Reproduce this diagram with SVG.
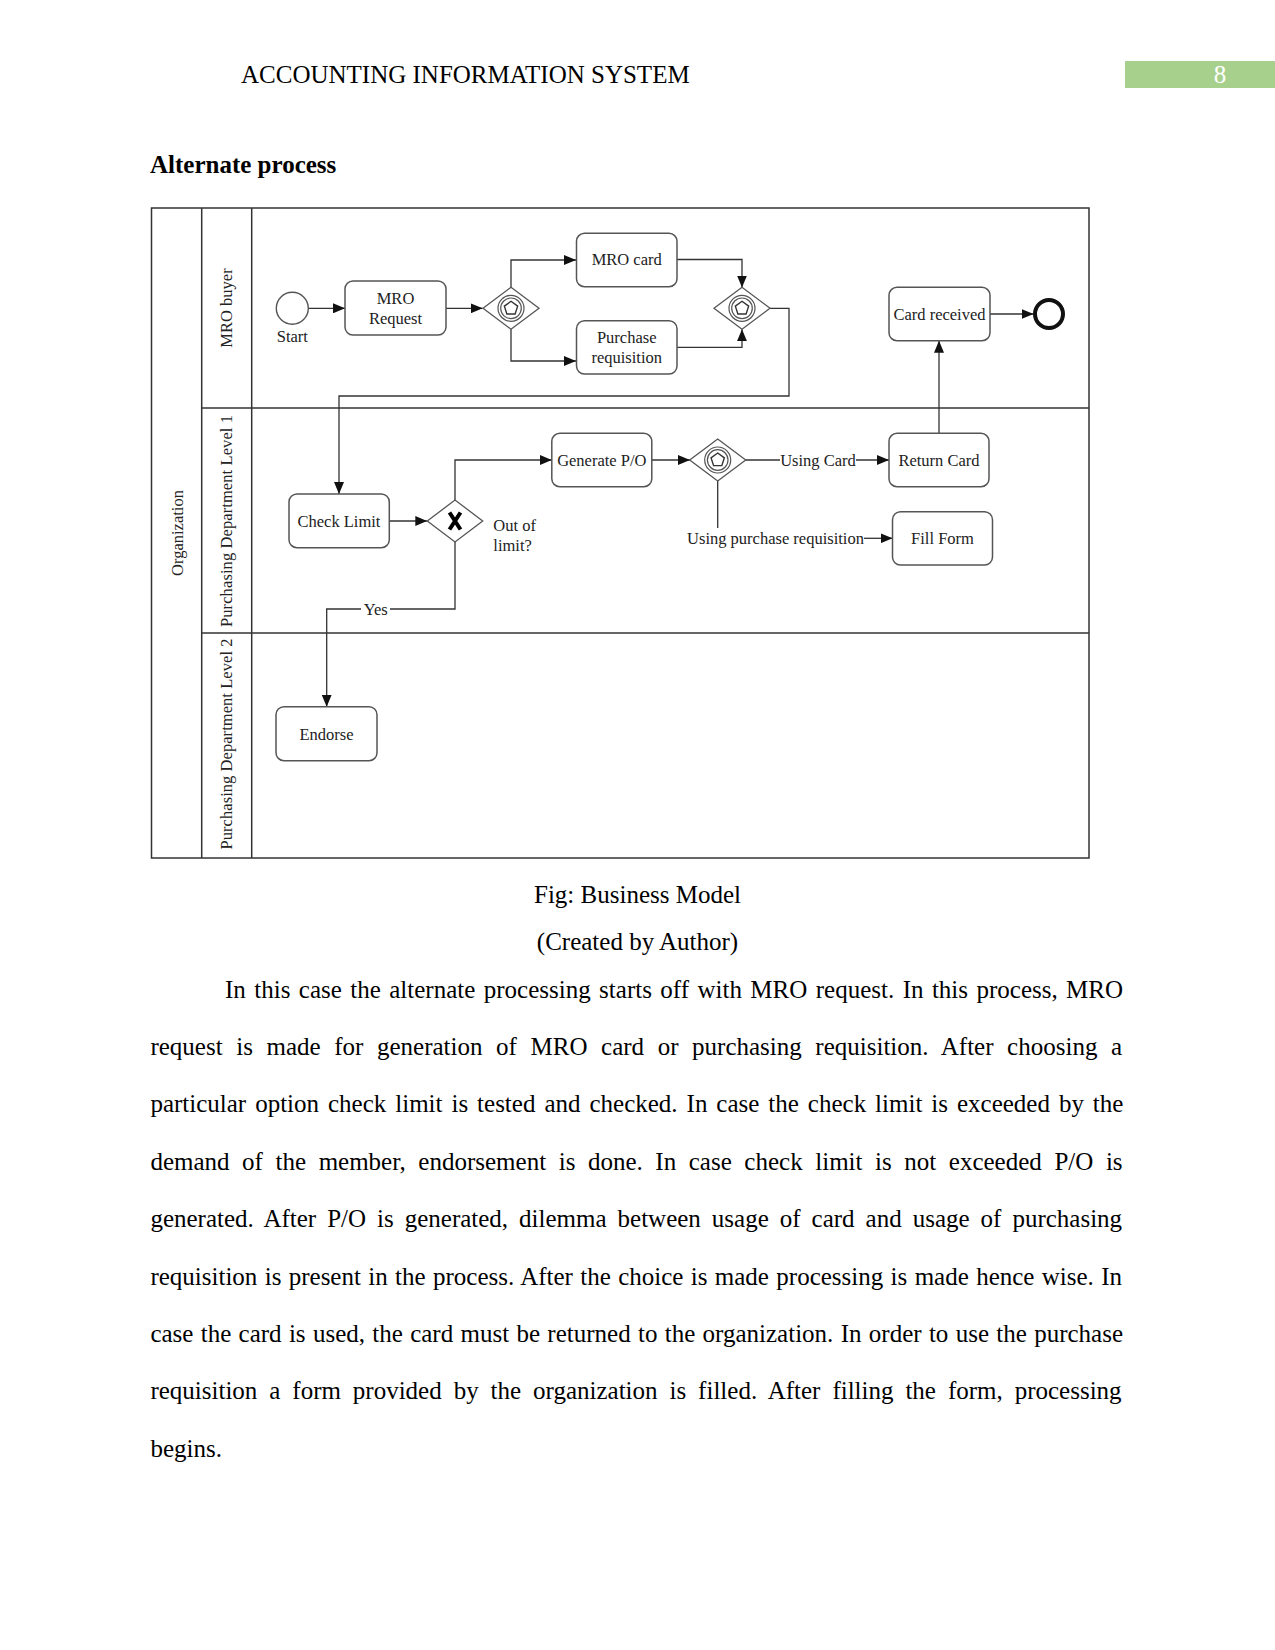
<svg xmlns="http://www.w3.org/2000/svg" xmlns:xlink="http://www.w3.org/1999/xlink" width="1275" height="1650" viewBox="0 0 1275 1650">
<style>
.t{font-family:"Liberation Serif","Times New Roman",serif;fill:#000}
.d{font-family:"Liberation Serif","Times New Roman",serif;font-size:16.5px;fill:#222}
.box{fill:#fff;stroke:#555;stroke-width:1.5}
.lane{fill:none;stroke:#333;stroke-width:1.5}
.c{fill:none;stroke:#333;stroke-width:1.3}
.lbl{fill:#fff;stroke:none}
</style>
<defs>
<marker id="ah" viewBox="0 0 12 10" refX="12" refY="5" markerWidth="12" markerHeight="10" markerUnits="userSpaceOnUse" orient="auto">
<path d="M0,0 L12,5 L0,10 z" fill="#111"/>
</marker>
<g id="evgw">
<path d="M-28,0 L0,-21 L28,0 L0,21 z" fill="#fff" stroke="#555" stroke-width="1.3"/>
<circle r="13" fill="none" stroke="#555" stroke-width="1.2"/>
<circle r="10.3" fill="none" stroke="#555" stroke-width="1.2"/>
<path d="M0,-7 L6.66,-2.16 L4.11,5.66 L-4.11,5.66 L-6.66,-2.16 z" fill="none" stroke="#333" stroke-width="1.4"/>
</g>
</defs>
<rect width="1275" height="1650" fill="#fff"/>

<g id="header">
<text class="t" x="241" y="83" font-size="25">ACCOUNTING INFORMATION SYSTEM</text>
<rect x="1125" y="61" width="150" height="27" fill="#a8d08d"/>
<text class="t" x="1220" y="83" font-size="25" text-anchor="middle" style="fill:#fff">8</text>
<text class="t" x="150" y="172.5" font-size="25" font-weight="bold">Alternate process</text>
</g>

<g id="pool">
<rect class="lane" x="151.5" y="208" width="937.5" height="650"/>
<line class="lane" x1="201.7" y1="208" x2="201.7" y2="858"/>
<line class="lane" x1="251.7" y1="208" x2="251.7" y2="858"/>
<line class="lane" x1="201.7" y1="408" x2="1089" y2="408"/>
<line class="lane" x1="201.7" y1="633" x2="1089" y2="633"/>
<text class="d" transform="translate(183,533) rotate(-90)" text-anchor="middle">Organization</text>
<text class="d" transform="translate(232,308) rotate(-90)" text-anchor="middle">MRO buyer</text>
<text class="d" transform="translate(232,521) rotate(-90)" text-anchor="middle" textLength="212">Purchasing Department Level 1</text>
<text class="d" transform="translate(232,744) rotate(-90)" text-anchor="middle" textLength="211">Purchasing Department Level 2</text>
</g>

<g id="connectors">
<path class="c" d="M308.3,308.3 H345" marker-end="url(#ah)"/>
<path class="c" d="M446,308.3 H482.7" marker-end="url(#ah)"/>
<path class="c" d="M511,287.3 V260 H576" marker-end="url(#ah)"/>
<path class="c" d="M511,329.3 V361 H576" marker-end="url(#ah)"/>
<path class="c" d="M677,259.5 H742 V287.5" marker-end="url(#ah)"/>
<path class="c" d="M677,347.3 H742 V329.2" marker-end="url(#ah)"/>
<path class="c" d="M770,308.3 H789 V396 H339 V494" marker-end="url(#ah)"/>
<path class="c" d="M389.3,521 H427.3" marker-end="url(#ah)"/>
<path class="c" d="M455,500 V460 H551.8" marker-end="url(#ah)"/>
<path class="c" d="M455,542 V609 H326.7 V706.7" marker-end="url(#ah)"/>
<rect class="lbl" x="361" y="601" width="29" height="16"/>
<text class="d" x="375.7" y="614.5" text-anchor="middle">Yes</text>
<path class="c" d="M651.8,460 H690" marker-end="url(#ah)"/>
<path class="c" d="M745.4,460 H780"/>
<text class="d" x="818" y="465.5" text-anchor="middle">Using Card</text>
<path class="c" d="M856,460 H889" marker-end="url(#ah)"/>
<path class="c" d="M717.7,480.7 V528"/>
<text class="d" x="775.5" y="544" text-anchor="middle">Using purchase requisition</text>
<path class="c" d="M864,538.3 H892.5" marker-end="url(#ah)"/>
<path class="c" d="M939,433 V340.7" marker-end="url(#ah)"/>
<path class="c" d="M990,314 H1033.5" marker-end="url(#ah)"/>
</g>

<g id="start">
<circle cx="292.3" cy="308.3" r="16" fill="#fff" stroke="#555" stroke-width="1.4"/>
<text class="d" x="292.3" y="342" text-anchor="middle">Start</text>
</g>
<g id="mro-request">
<rect class="box" x="345" y="281" width="101" height="54" rx="8"/>
<text class="d" x="395.5" y="304" text-anchor="middle">MRO</text>
<text class="d" x="395.5" y="324" text-anchor="middle">Request</text>
</g>
<g id="gw1"><use xlink:href="#evgw" x="511" y="308.3"/></g>
<g id="mro-card">
<rect class="box" x="576.5" y="233.3" width="100.5" height="53.4" rx="8"/>
<text class="d" x="626.7" y="265" text-anchor="middle">MRO card</text>
</g>
<g id="purchase-requisition">
<rect class="box" x="576.5" y="320.7" width="100.5" height="53.3" rx="8"/>
<text class="d" x="626.7" y="343.3" text-anchor="middle">Purchase</text>
<text class="d" x="626.7" y="363" text-anchor="middle">requisition</text>
</g>
<g id="gw2"><use xlink:href="#evgw" x="742" y="308.3"/></g>
<g id="card-received">
<rect class="box" x="889" y="287.3" width="101" height="53.4" rx="8"/>
<text class="d" x="939.5" y="319.5" text-anchor="middle">Card received</text>
</g>
<g id="end">
<circle cx="1049" cy="314" r="14" fill="#fff" stroke="#111" stroke-width="4"/>
</g>
<g id="check-limit">
<rect class="box" x="289" y="494" width="100.3" height="53.7" rx="8"/>
<text class="d" x="339" y="526.5" text-anchor="middle">Check Limit</text>
</g>
<g id="gw-x">
<path d="M427.3,521 L455,500 L482.7,521 L455,542 z" fill="#fff" stroke="#555" stroke-width="1.3"/>
<path d="M449.5,512.5 L460.5,529.5 M460.5,512.5 L449.5,529.5" stroke="#000" stroke-width="4" fill="none"/>
<text class="d" x="493.3" y="530.5">Out of</text>
<text class="d" x="493.3" y="550.5">limit?</text>
</g>
<g id="generate-po">
<rect class="box" x="551.8" y="433.3" width="100" height="53.4" rx="8"/>
<text class="d" x="601.8" y="465.5" text-anchor="middle">Generate P/O</text>
</g>
<g id="gw3"><use xlink:href="#evgw" x="717.7" y="460"/></g>
<g id="return-card">
<rect class="box" x="889" y="433.3" width="100" height="53.4" rx="8"/>
<text class="d" x="939" y="465.5" text-anchor="middle">Return Card</text>
</g>
<g id="fill-form">
<rect class="box" x="892.5" y="511.7" width="100" height="53.3" rx="8"/>
<text class="d" x="942.5" y="543.8" text-anchor="middle">Fill Form</text>
</g>
<g id="endorse">
<rect class="box" x="276" y="706.7" width="101" height="54" rx="8"/>
<text class="d" x="326.5" y="739.5" text-anchor="middle">Endorse</text>
</g>

<g id="body">
<text class="t" x="637.5" y="903" font-size="25" text-anchor="middle">Fig: Business Model</text>
<text class="t" x="637.5" y="950" font-size="25" text-anchor="middle">(Created by Author)</text>
<text class="t" font-size="25" x="225" y="997.5" word-spacing="2.19">In this case the alternate processing starts off with MRO request. In this process, MRO</text>
<text class="t" font-size="25" x="150.4" y="1055" word-spacing="7.35">request is made for generation of MRO card or purchasing requisition. After choosing a</text>
<text class="t" font-size="25" x="150.4" y="1112.4" word-spacing="2.72">particular option check limit is tested and checked. In case the check limit is exceeded by the</text>
<text class="t" font-size="25" x="150.4" y="1169.8" word-spacing="6.33">demand of the member, endorsement is done. In case check limit is not exceeded P/O is</text>
<text class="t" font-size="25" x="150.4" y="1227.2" word-spacing="4.74">generated. After P/O is generated, dilemma between usage of card and usage of purchasing</text>
<text class="t" font-size="25" x="150.4" y="1284.6" word-spacing="1.11">requisition is present in the process. After the choice is made processing is made hence wise. In</text>
<text class="t" font-size="25" x="150.4" y="1342" word-spacing="1.07">case the card is used, the card must be returned to the organization. In order to use the purchase</text>
<text class="t" font-size="25" x="150.4" y="1399.4" word-spacing="5.69">requisition a form provided by the organization is filled. After filling the form, processing</text>
<text class="t" font-size="25" x="150.4" y="1456.8">begins.</text>
</g>
</svg>
